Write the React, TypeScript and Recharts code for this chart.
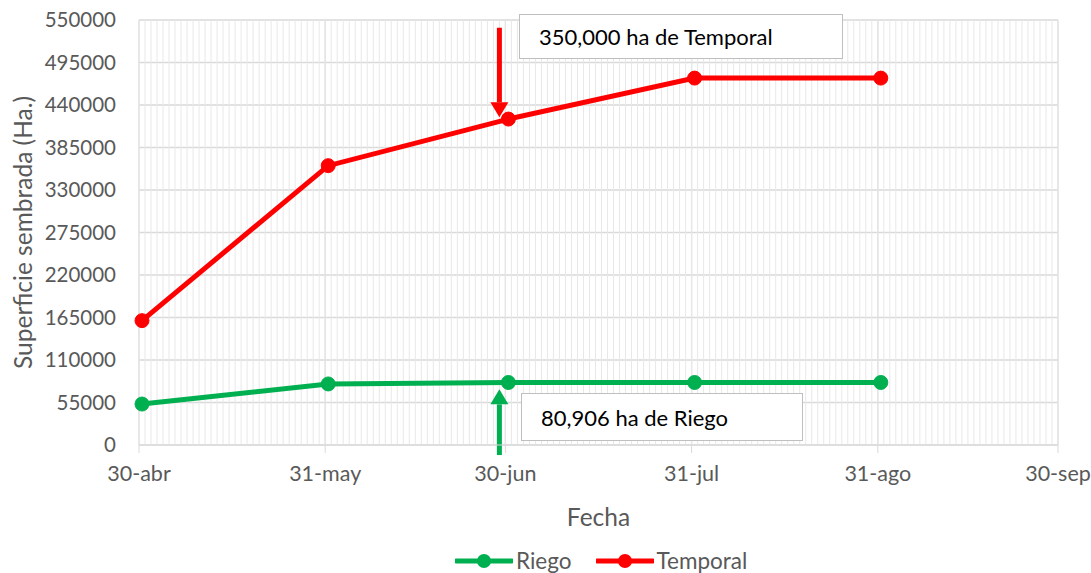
import { LineChart, Line, XAxis, YAxis, CartesianGrid, ReferenceLine } from 'recharts';

// días contados desde el 30-abr (los puntos caen medio día después de la línea de la fecha)
const DAYS = [0.5, 31.5, 61.5, 92.5, 123.5];
const RIEGO = [53000, 79000, 80906, 80906, 80906];
const TEMPORAL = [160900, 361500, 421800, 474800, 474800];

const X_TICKS = [0, 31, 61, 92, 123, 153];
const X_LABELS = ['30-abr', '31-may', '30-jun', '31-jul', '31-ago', '30-sep'];
const Y_TICKS = [0, 55000, 110000, 165000, 220000, 275000, 330000, 385000, 440000, 495000, 550000];
const MINOR_DAYS = Array.from({ length: 154 }, (_, i) => i);

const data = DAYS.map((d, i) => ({ day: d, riego: RIEGO[i], temporal: TEMPORAL[i] }));

const FONT = 'Lato, "Open Sans", sans-serif';
const GRAY = '#595959';
const GREEN = '#00b050';
const RED = '#ff0000';

const Arrow = (props: any) => {
    const { x1, y1, x2, y2, stroke } = props;
    const dir = y2 > y1 ? 1 : -1;
    const head = 15;
    const half = 9;
    return (
        <g>
            <line x1={x1} y1={y1} x2={x2} y2={y2 - dir * head} stroke={stroke} strokeWidth={5} />
            <polygon
                points={`${x2 - half},${y2 - dir * head} ${x2 + half},${y2 - dir * head} ${x2},${y2}`}
                fill={stroke}
            />
        </g>
    );
};

const YTitle = ({ viewBox }: any) => {
    const cx = viewBox.x + 22;
    const cy = viewBox.y + viewBox.height / 2;
    return (
        <text x={cx} y={cy} transform={`rotate(-90, ${cx}, ${cy})`} textAnchor="middle" dominantBaseline="central"
            fill={GRAY} fontSize={24.5} fontFamily={FONT}>
            Superficie sembrada (Ha.)
        </text>
    );
};

const XTitle = ({ viewBox }: any) => {
    const cx = viewBox.x + viewBox.width / 2;
    return (
        <text x={cx} y={516} textAnchor="middle" dominantBaseline="central" fill={GRAY} fontSize={24.5} fontFamily={FONT}>
            Fecha
        </text>
    );
};

const boxStyle: React.CSSProperties = {
    position: 'absolute',
    background: '#ffffff',
    border: '1.5px solid #bfbfbf',
    boxSizing: 'border-box',
    fontFamily: FONT,
    fontSize: 22,
    color: '#000000',
    display: 'flex',
    alignItems: 'center',
};

const LegendItem = ({ color, label }: { color: string; label: string }) => (
    <div style={{ display: 'flex', alignItems: 'center', marginRight: 24 }}>
        <svg width={58} height={16}>
            <line x1={1} y1={8} x2={57} y2={8} stroke={color} strokeWidth={5} strokeLinecap="round" />
            <circle cx={29} cy={8} r={7} fill={color} />
        </svg>
        <span style={{ marginLeft: 3, color: GRAY }}>{label}</span>
    </div>
);

export default function App() {
    return (
        <div style={{ position: 'absolute', left: 0, top: 0, width: 1091, height: 573, background: '#fff' }}>
            <LineChart width={1091} height={573} data={data} margin={{ top: 20, right: 33, left: 0, bottom: 78 }}>
                {MINOR_DAYS.map((d) => (
                    <ReferenceLine key={d} x={d} stroke="#e8e8e8" strokeWidth={1} />
                ))}
                <CartesianGrid stroke="#d9d9d9" strokeWidth={1.3} />
                <XAxis
                    type="number"
                    dataKey="day"
                    domain={[0, 153]}
                    ticks={X_TICKS}
                    tickFormatter={(v) => X_LABELS[X_TICKS.indexOf(v)]}
                    stroke="#d9d9d9"
                    tickSize={8}
                    tickMargin={13}
                    height={50}
                    tick={{ fill: GRAY, fontSize: 21.5, fontFamily: FONT }}
                    label={<XTitle />}
                />
                <YAxis
                    domain={[0, 550000]}
                    ticks={Y_TICKS}
                    width={139}
                    axisLine={false}
                    tickLine={false}
                    tickSize={0}
                    tickMargin={23}
                    tick={{ fill: GRAY, fontSize: 20.5, fontFamily: FONT }}
                    label={<YTitle />}
                />
                <Line
                    dataKey="riego"
                    stroke={GREEN}
                    strokeWidth={5}
                    dot={{ r: 7, fill: GREEN, stroke: GREEN, strokeWidth: 1 }}
                    isAnimationActive={false}
                />
                <Line
                    dataKey="temporal"
                    stroke={RED}
                    strokeWidth={5}
                    dot={{ r: 7, fill: RED, stroke: RED, strokeWidth: 1 }}
                    isAnimationActive={false}
                />
                <ReferenceLine
                    segment={[{ x: 60, y: 540000 }, { x: 60, y: 424000 }]}
                    stroke={RED}
                    ifOverflow="visible"
                    shape={<Arrow />}
                />
                <ReferenceLine
                    segment={[{ x: 60, y: -13000 }, { x: 60, y: 72000 }]}
                    stroke={GREEN}
                    ifOverflow="visible"
                    shape={<Arrow />}
                />
            </LineChart>

            <div style={{ ...boxStyle, left: 519, top: 14, width: 324, height: 45, paddingLeft: 19 }}>
                350,000 ha de Temporal
            </div>
            <div style={{ ...boxStyle, left: 521, top: 393, width: 282, height: 48, paddingLeft: 19 }}>
                80,906 ha de Riego
            </div>

            <div
                style={{
                    position: 'absolute',
                    top: 547,
                    left: 455,
                    display: 'flex',
                    fontFamily: FONT,
                    fontSize: 22.5,
                    lineHeight: '28px',
                }}
            >
                <LegendItem color={GREEN} label="Riego" />
                <LegendItem color={RED} label="Temporal" />
            </div>
        </div>
    );
}
